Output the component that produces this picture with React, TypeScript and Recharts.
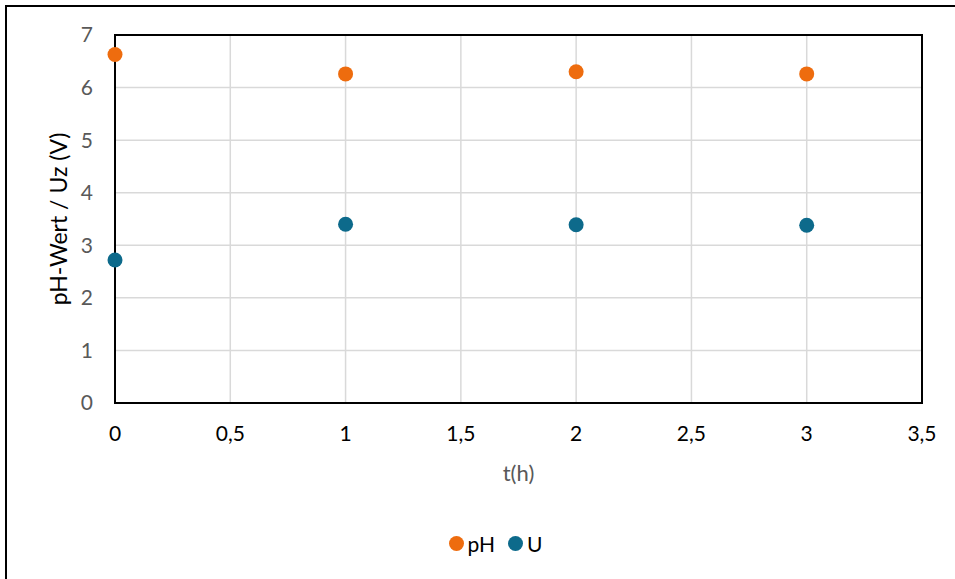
import React from "react";
import {
  ScatterChart,
  Scatter,
  XAxis,
  YAxis,
  CartesianGrid,
  Legend,
  ReferenceArea,
} from "recharts";

const times = [0, 1, 2, 3];
const phValues = [6.63, 6.26, 6.3, 6.26];
const uValues = [2.72, 3.4, 3.39, 3.38];
const xTicks = [0, 0.5, 1, 1.5, 2, 2.5, 3, 3.5];
const yTicks = [0, 1, 2, 3, 4, 5, 6, 7];
const seriesNames = ["pH", "U"];

const phData = times.map((t, i) => ({ t, v: phValues[i] }));
const uData = times.map((t, i) => ({ t, v: uValues[i] }));

const ORANGE = "#ee6c0e";
const BLUE = "#0d6a8b";
const FONT = "Lato, 'Open Sans', sans-serif";
const FS = 21;

const fmt = (n: number) => String(n).replace(".", ",");

const Dot = (props: any) => <circle cx={props.cx} cy={props.cy} r={7.5} fill={props.fill} />;

function LegendContent({ payload }: any) {
  const items = [...(payload || [])].sort(
    (a: any, b: any) => seriesNames.indexOf(a.value) - seriesNames.indexOf(b.value)
  );
  return (
    <div
      style={{
        display: "flex",
        justifyContent: "center",
        alignItems: "center",
        fontFamily: FONT,
        fontSize: FS,
        paddingLeft: 36,
      }}
    >
      {items.map((p: any, i: number) => (
        <div
          key={p.value}
          style={{ display: "flex", alignItems: "center", marginRight: i < items.length - 1 ? 13 : 0 }}
        >
          <svg width={15} height={15} style={{ marginRight: 4 }}>
            <circle cx={7.5} cy={7.5} r={7.5} fill={p.color} />
          </svg>
          <span style={{ color: "#000" }}>{p.value}</span>
        </div>
      ))}
    </div>
  );
}

export default function App() {
  return (
    <div style={{ position: "absolute", left: 0, top: 0, width: 955, height: 579, background: "#fff", overflow: "hidden" }}>
      <div
        style={{
          position: "absolute",
          left: 5,
          top: 5,
          width: 960,
          height: 590,
          borderLeft: "2px solid #000",
          borderTop: "2px solid #000",
        }}
      />
      <ScatterChart
        width={955}
        height={579}
        margin={{ top: 35, right: 33, left: 40, bottom: 126 }}
        style={{ fontFamily: FONT }}
      >
        <CartesianGrid stroke="#d9d9d9" strokeWidth={1.5} />
        <XAxis
          type="number"
          dataKey="t"
          domain={[0, 3.5]}
          ticks={xTicks}
          tickFormatter={fmt}
          height={50}
          tickSize={0}
          tickMargin={23}
          axisLine={false}
          tick={{ fill: "#000", fontSize: FS }}
          label={({ viewBox }: any) => (
            <text
              x={viewBox.x + viewBox.width / 2}
              y={472}
              textAnchor="middle"
              dominantBaseline="central"
              fill="#595959"
              fontSize={FS + 1}
            >
              t(h)
            </text>
          )}
        />
        <YAxis
          type="number"
          dataKey="v"
          domain={[0, 7]}
          ticks={yTicks}
          width={75}
          tickSize={0}
          tickMargin={22}
          axisLine={false}
          tick={{ fill: "#595959", fontSize: FS }}
          label={({ viewBox }: any) => {
            const cx = 58;
            const cy = viewBox.y + viewBox.height / 2;
            return (
              <text
                x={cx}
                y={cy}
                transform={`rotate(-90 ${cx} ${cy})`}
                textAnchor="middle"
                dominantBaseline="central"
                fill="#000"
                fontSize={FS + 2}
              >
                pH-Wert / Uz (V)
              </text>
            );
          }}
        />
        <ReferenceArea x1={0} x2={3.5} y1={0} y2={7} fill="none" stroke="#000" strokeWidth={2} ifOverflow="visible" />
        <Legend
          verticalAlign="middle"
          align="center"
          layout="horizontal"
          wrapperStyle={{ top: 531, left: 0, width: 955 }}
          content={<LegendContent />}
        />
        <Scatter name="pH" data={phData} fill={ORANGE} shape={Dot} legendType="circle" isAnimationActive={false} />
        <Scatter name="U" data={uData} fill={BLUE} shape={Dot} legendType="circle" isAnimationActive={false} />
      </ScatterChart>
    </div>
  );
}
